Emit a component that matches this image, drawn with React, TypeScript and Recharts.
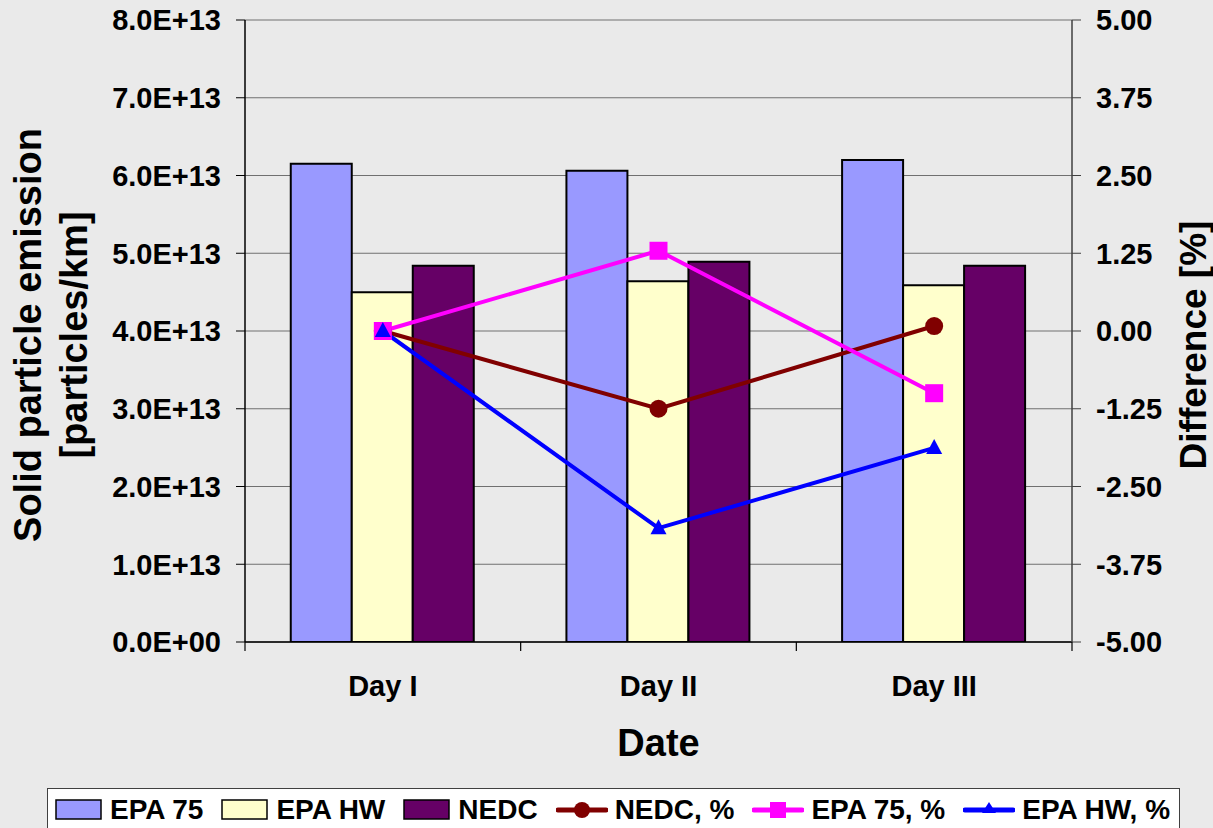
import React from "react";
import {
  ComposedChart,
  Bar,
  Line,
  XAxis,
  YAxis,
  CartesianGrid,
} from "recharts";

const categories = ["Day I", "Day II", "Day III"];
const epa75 = [6.15e13, 6.06e13, 6.2e13];
const epaHw = [4.5e13, 4.64e13, 4.59e13];
const nedc = [4.84e13, 4.89e13, 4.84e13];
const nedcPct = [0, -1.25, 0.08];
const epa75Pct = [0, 1.29, -1.0];
const epaHwPct = [0, -3.17, -1.88];

const leftTicks = [0, 1e13, 2e13, 3e13, 4e13, 5e13, 6e13, 7e13, 8e13];
const rightTicks = [-5, -3.75, -2.5, -1.25, 0, 1.25, 2.5, 3.75, 5];

const FONT = "'Liberation Sans', Arial, sans-serif";
const BG = "#EAEAEA";
const X_TICK_SIZE = 9;
const X_TICK_MARGIN = 24;

const data = categories.map((c, i) => ({
  day: c,
  epa75: epa75[i],
  epaHw: epaHw[i],
  nedc: nedc[i],
  nedcPct: nedcPct[i],
  epa75Pct: epa75Pct[i],
  epaHwPct: epaHwPct[i],
}));

function fmtSci(v: number): string {
  if (v === 0) return "0.0E+00";
  const e = Math.floor(Math.log10(Math.abs(v)) + 1e-9);
  const m = v / Math.pow(10, e);
  return `${m.toFixed(1)}E${e >= 0 ? "+" : "-"}${String(Math.abs(e)).padStart(2, "0")}`;
}

const tickStyle = { fill: "#000", fontSize: 29, fontWeight: 700, fontFamily: FONT };

// category label plus Excel-style tick marks on the category boundaries
const DayTick = (props: any) => {
  const { x, y, payload, index, visibleTicksCount } = props;
  const half = payload?.offset ?? 0;
  const axisY = y - X_TICK_SIZE - X_TICK_MARGIN;
  const last = index === (visibleTicksCount ?? categories.length) - 1;
  return (
    <g>
      {half > 0 && (
        <line x1={x - half} y1={axisY} x2={x - half} y2={axisY + X_TICK_SIZE} stroke="#000" strokeWidth={1.2} />
      )}
      {half > 0 && last && (
        <line x1={x + half} y1={axisY} x2={x + half} y2={axisY + X_TICK_SIZE} stroke="#000" strokeWidth={1.2} />
      )}
      <text x={x} y={y} dy="0.71em" textAnchor="middle" {...tickStyle}>
        {payload.value}
      </text>
    </g>
  );
};

const CircleDot = (props: any) => {
  const { cx, cy } = props;
  if (cx == null || cy == null) return null;
  return <circle cx={cx} cy={cy} r={9} fill="#800000" />;
};

const SquareDot = (props: any) => {
  const { cx, cy } = props;
  if (cx == null || cy == null) return null;
  return <rect x={cx - 9} y={cy - 9} width={18} height={18} fill="#FF00FF" />;
};

const TriangleDot = (props: any) => {
  const { cx, cy } = props;
  if (cx == null || cy == null) return null;
  return (
    <polygon
      points={`${cx},${cy - 9} ${cx + 8},${cy + 6} ${cx - 8},${cy + 6}`}
      fill="#0000FF"
    />
  );
};

const LeftTitle = (props: any) => {
  const { viewBox } = props;
  const cy = viewBox.y + viewBox.height / 2 + 4;
  const t = { fontSize: 38, fontWeight: 700, fontFamily: FONT, fill: "#000" };
  return (
    <g>
      <text x={28} y={cy} transform={`rotate(-90 28 ${cy})`} textAnchor="middle" dominantBaseline="central" {...t}>
        Solid particle emission
      </text>
      <text x={74} y={cy} transform={`rotate(-90 74 ${cy})`} textAnchor="middle" dominantBaseline="central" {...t}>
        [particles/km]
      </text>
    </g>
  );
};

const RightTitle = (props: any) => {
  const { viewBox } = props;
  const cy = viewBox.y + viewBox.height / 2 + 14;
  const x = 1193;
  return (
    <text
      x={x}
      y={cy}
      transform={`rotate(-90 ${x} ${cy})`}
      textAnchor="middle"
      dominantBaseline="central"
      fontSize={37}
      fontWeight={700}
      fontFamily={FONT}
      fill="#000"
    >
      Difference [%]
    </text>
  );
};

const BottomTitle = (props: any) => {
  const { viewBox } = props;
  return (
    <text
      x={viewBox.x + viewBox.width / 2}
      y={viewBox.y + 101}
      textAnchor="middle"
      dominantBaseline="central"
      fontSize={38}
      fontWeight={700}
      fontFamily={FONT}
      fill="#000"
    >
      Date
    </text>
  );
};

const legendItems = [
  { label: "EPA 75", type: "bar", color: "#9999FF" },
  { label: "EPA HW", type: "bar", color: "#FFFFCC" },
  { label: "NEDC", type: "bar", color: "#660066" },
  { label: "NEDC, %", type: "circle", color: "#800000" },
  { label: "EPA 75, %", type: "square", color: "#FF00FF" },
  { label: "EPA HW, %", type: "triangle", color: "#0000FF" },
];

function LegendIcon({ type, color }: { type: string; color: string }) {
  if (type === "bar") {
    return (
      <svg width={48} height={22} style={{ display: "block" }}>
        <rect x={1} y={1} width={45} height={19} fill={color} stroke="#000" strokeWidth={1.5} />
      </svg>
    );
  }
  return (
    <svg width={52} height={22} style={{ display: "block" }}>
      <line x1={2} y1={11} x2={50} y2={11} stroke={color} strokeWidth={5} strokeLinecap="round" />
      {type === "circle" && <circle cx={26} cy={11} r={8} fill={color} />}
      {type === "square" && <rect x={18} y={3} width={16} height={16} fill={color} />}
      {type === "triangle" && <polygon points="26,3 33,14 19,14" fill={color} />}
    </svg>
  );
}

export default function App() {
  return (
    <div
      style={{
        position: "relative",
        width: 1213,
        height: 828,
        background: BG,
        overflow: "hidden",
      }}
    >
      <style>{`html, body { margin: 0; padding: 0; background: ${BG}; overflow: hidden; }`}</style>
      <ComposedChart
        width={1213}
        height={828}
        data={data}
        margin={{ top: 20, right: 0, bottom: 0, left: 0 }}
        barCategoryGap="16.6%"
        barGap={0}
      >
        <CartesianGrid vertical={false} stroke="#707070" strokeWidth={1.2} yAxisId="left" />
        <XAxis
          dataKey="day"
          height={186}
          tickLine={false}
          tickSize={X_TICK_SIZE}
          tickMargin={X_TICK_MARGIN}
          axisLine={{ stroke: "#000", strokeWidth: 1.5 }}
          tick={<DayTick />}
          label={<BottomTitle />}
        />
        <YAxis
          yAxisId="left"
          width={245}
          domain={[0, 8e13]}
          ticks={leftTicks}
          tickFormatter={fmtSci}
          tick={tickStyle}
          tickSize={9}
          tickMargin={15}
          axisLine={{ stroke: "#000", strokeWidth: 1.5 }}
          tickLine={{ stroke: "#000" }}
          label={<LeftTitle />}
          allowDataOverflow
        />
        <YAxis
          yAxisId="right"
          orientation="right"
          width={141}
          domain={[-5, 5]}
          ticks={rightTicks}
          tickFormatter={(v: number) => v.toFixed(2)}
          tick={{ ...tickStyle, textAnchor: "start" }}
          tickSize={9}
          tickMargin={15}
          axisLine={{ stroke: "#404040", strokeWidth: 1.5 }}
          tickLine={{ stroke: "#404040" }}
          label={<RightTitle />}
          allowDataOverflow
        />
        <Bar yAxisId="left" dataKey="epa75" name="EPA 75" fill="#9999FF" stroke="#000" strokeWidth={2} isAnimationActive={false} />
        <Bar yAxisId="left" dataKey="epaHw" name="EPA HW" fill="#FFFFCC" stroke="#000" strokeWidth={2} isAnimationActive={false} />
        <Bar yAxisId="left" dataKey="nedc" name="NEDC" fill="#660066" stroke="#000" strokeWidth={2} isAnimationActive={false} />
        <Line yAxisId="right" dataKey="nedcPct" name="NEDC, %" stroke="#800000" strokeWidth={4} dot={<CircleDot />} activeDot={false} isAnimationActive={false} />
        <Line yAxisId="right" dataKey="epa75Pct" name="EPA 75, %" stroke="#FF00FF" strokeWidth={4} dot={<SquareDot />} activeDot={false} isAnimationActive={false} />
        <Line yAxisId="right" dataKey="epaHwPct" name="EPA HW, %" stroke="#0000FF" strokeWidth={4} dot={<TriangleDot />} activeDot={false} isAnimationActive={false} />
      </ComposedChart>
      <div
        style={{
          position: "absolute",
          left: 47,
          top: 788,
          width: 1133,
          height: 60,
          boxSizing: "border-box",
          background: "#FFFFFF",
          border: "1.5px solid #404040",
          display: "flex",
          alignItems: "flex-start",
          paddingLeft: 7,
          paddingTop: 6,
          fontFamily: FONT,
          fontWeight: 700,
          fontSize: 28,
          color: "#000",
        }}
      >
        {legendItems.map((it) => (
          <div key={it.label} style={{ display: "flex", alignItems: "center", marginRight: 18 }}>
            <LegendIcon type={it.type} color={it.color} />
            <span style={{ marginLeft: 7, lineHeight: "30px", whiteSpace: "nowrap" }}>{it.label}</span>
          </div>
        ))}
      </div>
    </div>
  );
}
